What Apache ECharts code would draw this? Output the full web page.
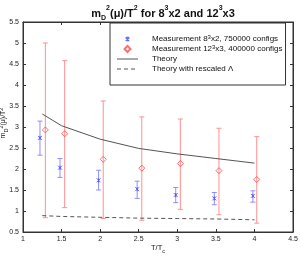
<!DOCTYPE html>
<html><head><meta charset="utf-8">
<script src="https://cdn.jsdelivr.net/npm/echarts@6/dist/echarts.min.js"></script>
<style>html,body{margin:0;padding:0;background:#fff}#c{width:300px;height:256px}</style>
</head><body><div id="c"></div>
<script>
// ---- data ----
const blueX  = [1.22, 1.48, 1.98, 2.48, 2.98, 3.48, 3.98];
const blueY  = [2.74, 2.03, 1.73, 1.52, 1.38, 1.30, 1.36];
const blueLo = [2.33, 1.80, 1.50, 1.30, 1.20, 1.15, 1.21];
const blueHi = [3.14, 2.25, 1.97, 1.71, 1.56, 1.44, 1.48];
const redX  = [1.29, 1.54, 2.04, 2.54, 3.04, 3.54, 4.03];
const redY  = [2.93, 2.84, 2.23, 2.02, 2.13, 1.96, 1.75];
const redLo = [0.84, 1.08, 0.82, 0.78, 1.04, 0.91, 0.71];
const redHi = [5.00, 4.58, 3.62, 3.24, 3.19, 2.97, 2.77];
const theoryX = [1.25, 1.5, 2.0, 2.5, 3.0, 3.5, 4.0];
const theoryY = [3.31, 3.03, 2.71, 2.49, 2.36, 2.25, 2.14];
const rescaledY = [0.89, 0.87, 0.85, 0.83, 0.82, 0.81, 0.79];
const xTicks = {min: 1, max: 4.5, step: 0.5};
const yTicks = {min: 0.5, max: 5.5, step: 0.5};
const names = ['Measurement 8^3x2, 750000 configs', 'Measurement 12^3x3, 400000 configs', 'Theory', 'Theory with rescaled \u039b'];
const legendRich = {
  'Measurement 8^3x2, 750000 configs': 'Measurement 8{s|3}x2, 750000 configs',
  'Measurement 12^3x3, 400000 configs': 'Measurement 12{s|3}x3, 400000 configs',
  'Theory': 'Theory',
  'Theory with rescaled \u039b': 'Theory with rescaled \u039b'
};

const FONT = 'Liberation Sans, Arial, sans-serif';
const BLUE = '#4a4aff', BLUE_ERR = '#8f8fff';
const RED = '#ff4a4a', RED_ERR = '#ff9090';
const GRAY = '#555555';

// legend icons (box 21 x 8; leading moveTo points fix the bounding box)
const ICON_X = 'path://M0,0M21,8M8.8,2.3L12.2,5.7M12.2,2.3L8.8,5.7M10.5,1.8L10.5,6.2';
const ICON_D = 'path://M0,0M21,8M10.5,1L13.5,4L10.5,7L7.5,4Z';
const ICON_LINE = 'path://M0,0M21,8M0,3.5L21,3.5L21,4.5L0,4.5Z';
const ICON_DASH = 'path://M0,0M21,8M0,3.5L4,3.5L4,4.5L0,4.5ZM7,3.5L11,3.5L11,4.5L7,4.5ZM14,3.5L18,3.5L18,4.5L14,4.5Z';

function errRender(color) {
  return function (params, api) {
    const x = api.value(0), lo = api.value(1), hi = api.value(2);
    const a = api.coord([x, lo]), b = api.coord([x, hi]);
    const w = 2.5;
    const st = {stroke: color, lineWidth: 1};
    return {type: 'group', children: [
      {type: 'line', shape: {x1: a[0], y1: a[1], x2: b[0], y2: b[1]}, style: st},
      {type: 'line', shape: {x1: a[0]-w, y1: a[1], x2: a[0]+w, y2: a[1]}, style: st},
      {type: 'line', shape: {x1: b[0]-w, y1: b[1], x2: b[0]+w, y2: b[1]}, style: st}
    ]};
  };
}

const axisCommon = {
  type: 'value', splitLine: {show: false},
  axisLine: {show: true, lineStyle: {color: '#333', width: 1}},
  axisTick: {show: true, inside: true, length: 3, lineStyle: {color: '#333'}},
  axisLabel: {fontSize: 7, fontFamily: FONT, color: '#222', margin: 4}
};

const chart = echarts.init(document.getElementById('c'), null, {renderer: 'canvas'});
chart.setOption({
  animation: false,
  backgroundColor: '#fff',
  title: {
    text: 'm{sub|D}{sup|2}(\u03bc)/T{sup|2} for 8{sup|3}x2 and 12{sup|3}x3',
    left: 158, top: 0, textAlign: 'center',
    textStyle: {fontSize: 11, fontWeight: 'bold', fontFamily: FONT, color: '#111', lineHeight: 17,
      rich: {
        sup: {fontSize: 7, fontWeight: 'bold', fontFamily: FONT, lineHeight: 7, verticalAlign: 'top', color: '#111'},
        sub: {fontSize: 7, fontWeight: 'bold', fontFamily: FONT, lineHeight: 7, verticalAlign: 'bottom', color: '#111'}
      }}
  },
  grid: {left: 23, right: 7, top: 22, bottom: 24, containLabel: false, outerBoundsMode: 'none',
    show: true, borderColor: '#333', borderWidth: 1, backgroundColor: '#fff'},
  legend: {
    data: [
      {name: names[0], icon: ICON_X},
      {name: names[1], icon: ICON_D},
      {name: names[2], icon: ICON_LINE},
      {name: names[3], icon: ICON_DASH}
    ],
    orient: 'vertical', left: 110, top: 23,
    backgroundColor: '#fff', borderColor: '#333', borderWidth: 1,
    padding: [11, 3, 11, 6], itemGap: 0, itemWidth: 21, itemHeight: 8,
    formatter: n => legendRich[n],
    textStyle: {fontSize: 8, fontFamily: FONT, color: '#111', lineHeight: 10, padding: [0, 0, 0, 9],
      rich: {s: {fontSize: 6, fontFamily: FONT, lineHeight: 6, verticalAlign: 'top', color: '#111'}}}
  },
  xAxis: [
    Object.assign({}, axisCommon, {min: xTicks.min, max: xTicks.max, interval: xTicks.step, position: 'bottom',
      name: 'T/T{sub|c}', nameLocation: 'middle', nameGap: 10, nameMoveOverlap: false,
      nameTextStyle: {fontSize: 7.5, fontFamily: FONT, color: '#111', lineHeight: 12,
        rich: {sub: {fontSize: 5.5, fontFamily: FONT, lineHeight: 6, verticalAlign: 'bottom', color: '#111'}}}}),
    Object.assign({}, axisCommon, {min: xTicks.min, max: xTicks.max, interval: xTicks.step, position: 'top',
      axisLabel: {show: false}})
  ],
  yAxis: [
    Object.assign({}, axisCommon, {min: yTicks.min, max: yTicks.max, interval: yTicks.step, position: 'left',
      name: 'm{sub|D}{sup|2}(\u03bc)/T{sup|2}', nameLocation: 'middle', nameGap: 14, nameRotate: 90, nameMoveOverlap: false,
      nameTextStyle: {fontSize: 7, fontFamily: FONT, color: '#111', lineHeight: 11, padding: [0, 0, 0, 8],
        rich: {
          sup: {fontSize: 5.5, fontFamily: FONT, lineHeight: 5.5, verticalAlign: 'top', color: '#111'},
          sub: {fontSize: 5.5, fontFamily: FONT, lineHeight: 5.5, verticalAlign: 'bottom', color: '#111'}
        }}}),
    Object.assign({}, axisCommon, {min: yTicks.min, max: yTicks.max, interval: yTicks.step, position: 'right',
      axisLabel: {show: false}})
  ],
  series: [
    {type: 'custom', name: 'blueErr', renderItem: errRender(BLUE_ERR), encode: {x: 0, y: [1, 2]},
      data: blueX.map((x, i) => [x, blueLo[i], blueHi[i]]), z: 2},
    {type: 'custom', name: 'redErr', renderItem: errRender(RED_ERR), encode: {x: 0, y: [1, 2]},
      data: redX.map((x, i) => [x, redLo[i], redHi[i]]), z: 2},
    {type: 'line', name: names[2], data: theoryX.map((x, i) => [x, theoryY[i]]), showSymbol: false, symbol: 'none',
      lineStyle: {color: GRAY, width: 1}, itemStyle: {color: GRAY}, z: 3},
    {type: 'line', name: names[3], data: theoryX.map((x, i) => [x, rescaledY[i]]), showSymbol: false, symbol: 'none',
      lineStyle: {color: GRAY, width: 1, type: [4, 3]}, itemStyle: {color: GRAY}, z: 3},
    {type: 'scatter', name: names[0], data: blueX.map((x, i) => [x, blueY[i]]),
      symbol: 'path://M0,0L10,10M10,0L0,10M5,0L5,10', symbolSize: 4,
      itemStyle: {color: BLUE, borderColor: BLUE, borderWidth: 1}, z: 4},
    {type: 'scatter', name: names[1], data: redX.map((x, i) => [x, redY[i]]),
      symbol: 'diamond', symbolSize: 6,
      itemStyle: {color: 'rgba(255,255,255,0)', borderColor: RED, borderWidth: 1}, z: 4}
  ]
});
</script></body></html>
